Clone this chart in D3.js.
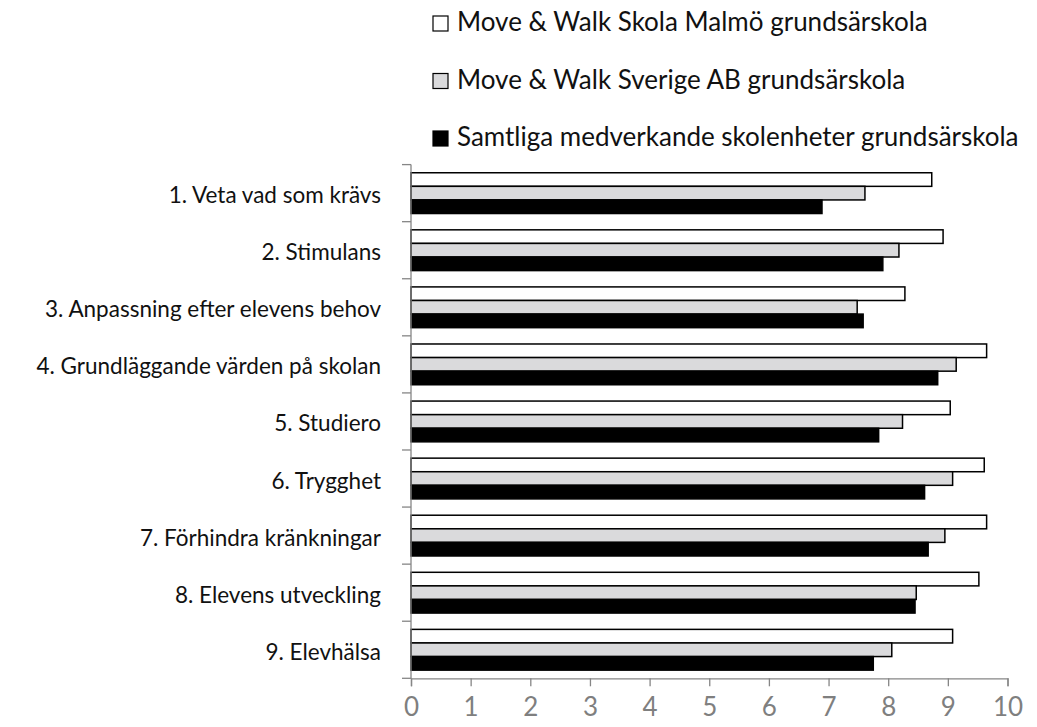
<!DOCTYPE html>
<html>
<head>
<meta charset="utf-8">
<title>Grundsärskola</title>
<script src="https://cdn.jsdelivr.net/npm/d3@7"></script>
<style>
	body { margin: 0; background: #fff; }
	text { font-family: Lato, "Open Sans", sans-serif; }
</style>
</head>
<body>
<div id="vis"></div>
<script type="text/javascript">
// categories (top to bottom)
var categories = [
	"1. Veta vad som krävs",
	"2. Stimulans",
	"3. Anpassning efter elevens behov",
	"4. Grundläggande värden på skolan",
	"5. Studiero",
	"6. Trygghet",
	"7. Förhindra kränkningar",
	"8. Elevens utveckling",
	"9. Elevhälsa"
];
var seriesNames = [
	"Move & Walk Skola Malmö grundsärskola",
	"Move & Walk Sverige AB grundsärskola",
	"Samtliga medverkande skolenheter grundsärskola"
];
var malmo    = [8.73, 8.92, 8.28, 9.65, 9.04, 9.61, 9.65, 9.52, 9.08];
var sverige  = [7.61, 8.18, 7.48, 9.14, 8.24, 9.08, 8.95, 8.47, 8.06];
var samtliga = [6.89, 7.91, 7.58, 8.83, 7.84, 8.61, 8.67, 8.45, 7.75];
var xTicks = [0, 1, 2, 3, 4, 5, 6, 7, 8, 9, 10];

const FILLS = ["#ffffff", "#dadadc", "#000000"];
const AXIS_COLOR = "#868686";

var W = 1037, H = 727;
var plot = { left: 411, right: 1007.5, top: 164.6, bottom: 678.3 };

var svg = d3.select("#vis").append("svg").attr("width", W).attr("height", H);

var x = d3.scaleLinear().domain([0, 10]).range([plot.left, plot.right]);
var y = d3.scaleBand().domain(categories).range([plot.top, plot.bottom]).padding(0);
var ySub = d3.scaleBand().domain(seriesNames).range([0, y.bandwidth()]).paddingInner(0).paddingOuter(0.6);

var table = categories.map(function(c, i) {
	return { cat: c, values: [malmo[i], sverige[i], samtliga[i]] };
});

// bars
var groups = svg.append("g").selectAll("g").data(table).enter().append("g")
	.attr("transform", function(d) { return "translate(0," + y(d.cat) + ")"; });
groups.selectAll("rect").data(function(d) {
		return d.values.map(function(v, j) { return { name: seriesNames[j], v: v, j: j }; });
	})
	.enter().append("rect")
	.attr("x", x(0))
	.attr("y", function(d) { return ySub(d.name); })
	.attr("width", function(d) { return x(d.v) - x(0); })
	.attr("height", ySub.bandwidth())
	.attr("fill", function(d) { return FILLS[d.j]; })
	.attr("stroke", "#000")
	.attr("stroke-width", 1.5);

// y axis: line + ticks on band edges
var yAxis = svg.append("g");
yAxis.append("line")
	.attr("x1", x(0)).attr("x2", x(0))
	.attr("y1", plot.top).attr("y2", plot.bottom)
	.attr("stroke", AXIS_COLOR).attr("stroke-width", 1.3);
var edges = categories.map(function(c) { return y(c); }).concat([plot.bottom]);
yAxis.selectAll(".edge").data(edges).enter().append("line")
	.attr("class", "edge")
	.attr("x1", x(0) - 9).attr("x2", x(0))
	.attr("y1", function(d) { return d; }).attr("y2", function(d) { return d; })
	.attr("stroke", AXIS_COLOR).attr("stroke-width", 1.3);
yAxis.selectAll(".lbl").data(categories).enter().append("text")
	.attr("class", "lbl")
	.attr("x", 381)
	.attr("y", function(d) { return y(d) + y.bandwidth() / 2 + 10; })
	.attr("text-anchor", "end")
	.attr("font-size", 22.5)
	.attr("fill", "#111")
	.text(function(d) { return d; });

// x axis
var xAxis = svg.append("g")
	.attr("transform", "translate(0," + plot.bottom + ")")
	.call(d3.axisBottom(x).tickValues(xTicks).tickSize(8).tickPadding(11).tickFormat(d3.format("d")));
xAxis.select(".domain").attr("stroke", AXIS_COLOR).attr("stroke-width", 1.3);
xAxis.selectAll(".tick line").attr("stroke", AXIS_COLOR).attr("stroke-width", 1.3);
xAxis.selectAll(".tick text")
	.attr("fill", "#7f7f7f")
	.attr("font-size", 26)
	.attr("font-family", "Lato, sans-serif");

// legend
var legend = svg.append("g").selectAll("g").data(seriesNames).enter().append("g")
	.attr("transform", function(d, i) { return "translate(0," + (31 + i * 57.5) + ")"; });
legend.append("rect")
	.attr("x", 433).attr("y", -15)
	.attr("width", 15).attr("height", 15)
	.attr("fill", function(d, i) { return FILLS[i]; })
	.attr("stroke", "#000").attr("stroke-width", 1.2);
legend.append("text")
	.attr("x", 457).attr("y", 0)
	.attr("font-size", 26)
	.attr("fill", "#111")
	.text(function(d) { return d; });
</script>
</body>
</html>
